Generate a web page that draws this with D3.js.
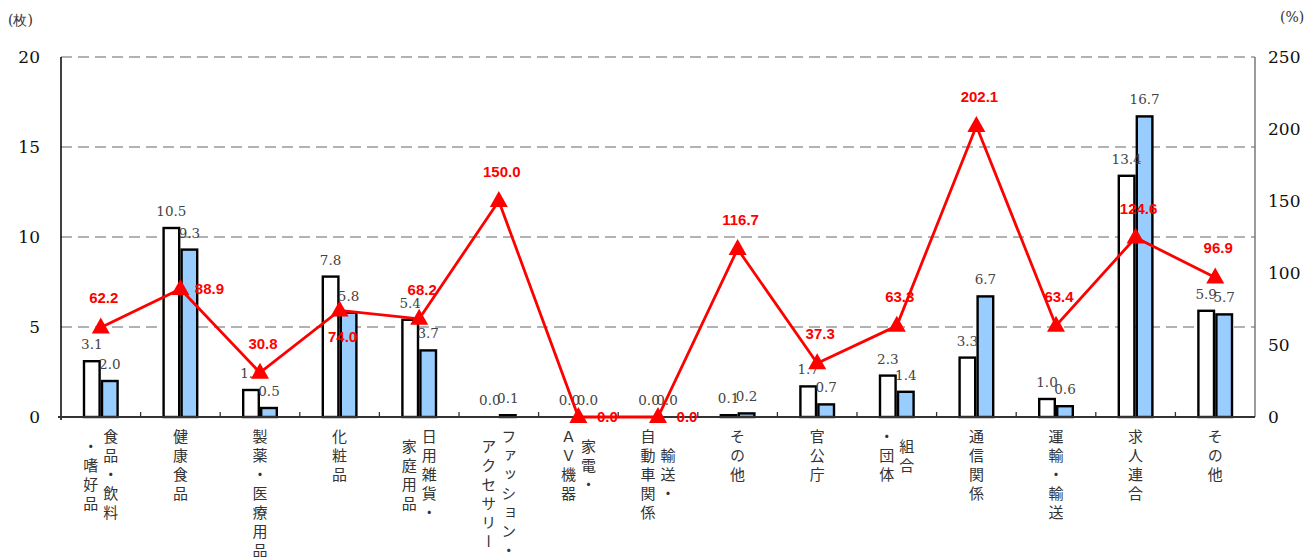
<!DOCTYPE html>
<html>
<head>
<meta charset="utf-8">
<script src="https://cdn.jsdelivr.net/npm/d3@7"></script>
<style>
  body { margin: 0; background: #fff; }
  svg { display: block; }
</style>
</head>
<body>
<div id="chart"></div>
<script>
// category labels, one array per category, columns right to left
var categories = [
  ["食品・飲料", "・嗜好品"],
  ["健康食品"],
  ["製薬・医療用品"],
  ["化粧品"],
  ["日用雑貨・", "家庭用品"],
  ["ファッション・", "アクセサリー"],
  ["家電・", "ＡＶ機器"],
  ["輸送・", "自動車関係"],
  ["その他"],
  ["官公庁"],
  ["組合", "・団体"],
  ["通信関係"],
  ["運輸・輸送"],
  ["求人連合"],
  ["その他"]
]
var prevValues = [3.1, 10.5, 1.5, 7.8, 5.4, 0.0, 0.0, 0.0, 0.1, 1.7, 2.3, 3.3, 1.0, 13.4, 5.9]
var currValues = [2.0, 9.3, 0.5, 5.8, 3.7, 0.1, 0.0, 0.0, 0.2, 0.7, 1.4, 6.7, 0.6, 16.7, 5.7]
var ratioValues = [62.2, 88.9, 30.8, 74.0, 68.2, 150.0, 0.0, 0.0, 116.7, 37.3, 63.3, 202.1, 63.4, 124.6, 96.9]
var leftTicks = [0, 5, 10, 15, 20]
var rightTicks = [0, 50, 100, 150, 200, 250]

var width = 1312, height = 557
var margin = {top: 57, right: 57, bottom: 140, left: 61}

var svg = d3.select("#chart").append("svg")
  .attr("width", width)
  .attr("height", height)

var idx = d3.range(categories.length)

var x = d3.scaleBand()
  .domain(idx)
  .range([margin.left, width - margin.right])

var xi = d3.scaleBand()
  .domain(["prev", "curr"])
  .range([0, 36])

var y = d3.scaleLinear()
  .domain([0, 20])
  .range([height - margin.bottom, margin.top])

var yR = d3.scaleLinear()
  .domain([0, 250])
  .range([height - margin.bottom, margin.top])

var serif = "'DejaVu Serif', 'Liberation Serif', serif"
var x0 = margin.left, x1 = width - margin.right

// dashed grid
svg.append("g")
  .selectAll("line")
  .data(leftTicks.filter(d => d > 0))
  .join("line")
    .attr("x1", x0)
    .attr("x2", x1)
    .attr("y1", d => y(d))
    .attr("y2", d => y(d))
    .attr("stroke", "#666")
    .attr("stroke-width", 1.2)
    .attr("stroke-dasharray", "11,6")

// left tick labels
svg.append("g")
  .selectAll("text")
  .data(leftTicks)
  .join("text")
    .attr("x", 40)
    .attr("y", d => y(d))
    .attr("dy", "0.36em")
    .attr("text-anchor", "end")
    .attr("font-family", serif)
    .attr("font-size", 17)
    .attr("fill", "#111")
    .text(d => d)

// right tick labels
svg.append("g")
  .selectAll("text")
  .data(rightTicks)
  .join("text")
    .attr("x", 1268)
    .attr("y", d => yR(d))
    .attr("dy", "0.36em")
    .attr("text-anchor", "start")
    .attr("font-family", serif)
    .attr("font-size", 17)
    .attr("fill", "#111")
    .text(d => d)

svg.append("text")
  .attr("x", 8).attr("y", 25)
  .attr("font-family", serif)
  .attr("font-size", 14)
  .attr("fill", "#333")
  .text("(枚)")

svg.append("text")
  .attr("x", 1280).attr("y", 22)
  .attr("font-family", serif)
  .attr("font-size", 14)
  .attr("fill", "#333")
  .text("(%)")

// bars
var groups = svg.append("g")
  .selectAll("g")
  .data(idx)
  .join("g")
    .attr("transform", i => `translate(${x(i) + x.bandwidth() / 2 - 18},0)`)

var barData = i => [
  {key: "prev", v: prevValues[i]},
  {key: "curr", v: currValues[i]}
]

groups.selectAll("rect")
  .data(barData)
  .join("rect")
    .attr("x", d => xi(d.key) + 1.2)
    .attr("width", xi.bandwidth() - 2.4)
    .attr("y", d => y(d.v))
    .attr("height", d => y(0) - y(d.v))
    .attr("fill", d => d.key == "prev" ? "#fff" : "#99ccff")
    .attr("stroke", "#000")
    .attr("stroke-width", 2.4)

groups.selectAll("text")
  .data(barData)
  .join("text")
    .attr("x", d => xi(d.key) + xi.bandwidth() / 2)
    .attr("y", d => y(d.v) - 12)
    .attr("text-anchor", "middle")
    .attr("font-family", serif)
    .attr("font-size", 13.5)
    .attr("fill", "#444")
    .text(d => d.v.toFixed(1))

// axes lines
svg.append("line")
  .attr("x1", x0).attr("x2", x0)
  .attr("y1", y(20)).attr("y2", y(0) + 3)
  .attr("stroke", "#000").attr("stroke-width", 1.5)

svg.append("line")
  .attr("x1", x1).attr("x2", x1)
  .attr("y1", y(20)).attr("y2", y(0))
  .attr("stroke", "#666").attr("stroke-width", 1.3)

svg.append("line")
  .attr("x1", x0 - 3).attr("x2", x1)
  .attr("y1", y(0)).attr("y2", y(0))
  .attr("stroke", "#333").attr("stroke-width", 2)

svg.append("g")
  .selectAll("line")
  .data(idx.slice(1))
  .join("line")
    .attr("x1", i => x(i)).attr("x2", i => x(i))
    .attr("y1", y(0)).attr("y2", y(0) - 5)
    .attr("stroke", "#333").attr("stroke-width", 1.3)

// ratio line
var cx = i => x(i) + x.bandwidth() / 2

var line = d3.line()
  .x(i => cx(i))
  .y(i => yR(ratioValues[i]))

svg.append("path")
  .datum(idx)
  .attr("fill", "none")
  .attr("stroke", "#ff0000")
  .attr("stroke-width", 2.8)
  .attr("d", line)

svg.append("g")
  .selectAll("path")
  .data(idx)
  .join("path")
    .attr("transform", i => `translate(${cx(i)},${yR(ratioValues[i])})`)
    .attr("d", "M0,-10L9,6L-9,6Z")
    .attr("fill", "#ff0000")

// label placement for the red values
var place = {1: "right", 3: "below", 6: "right", 7: "right"}

svg.append("g")
  .selectAll("text")
  .data(idx)
  .join("text")
    .attr("x", i => place[i] == "right" ? cx(i) + 29 : cx(i) + 3)
    .attr("y", i => {
      var p = yR(ratioValues[i])
      if (place[i] == "right") return p + 5
      if (place[i] == "below") return p + 32
      return p - 24
    })
    .attr("text-anchor", "middle")
    .attr("font-family", "'Liberation Sans', Arial, sans-serif")
    .attr("font-weight", "bold")
    .attr("font-size", 15)
    .attr("fill", "#ff0000")
    .text(i => ratioValues[i].toFixed(1))

// vertical category labels
var pitch = 19
var labelTop = 429

var catG = svg.append("g")
  .selectAll("g")
  .data(idx)
  .join("g")

catG.each(function(i) {
  var cols = categories[i]
  var maxN = d3.max(cols, c => c.length)
  var g = d3.select(this)
  cols.forEach((c, k) => {
    var off = cols.length == 1 ? 0 : (k == 0 ? 10 : -10)
    g.append("text")
      .attr("x", cx(i) + off)
      .attr("y", labelTop + (maxN - c.length) * pitch / 2)
      .style("writing-mode", "vertical-rl")
      .attr("font-family", "'Noto Sans CJK JP', sans-serif")
      .attr("font-size", 15)
      .attr("letter-spacing", pitch - 15)
      .attr("fill", "#333")
      .text(c)
  })
})
</script>
</body>
</html>
